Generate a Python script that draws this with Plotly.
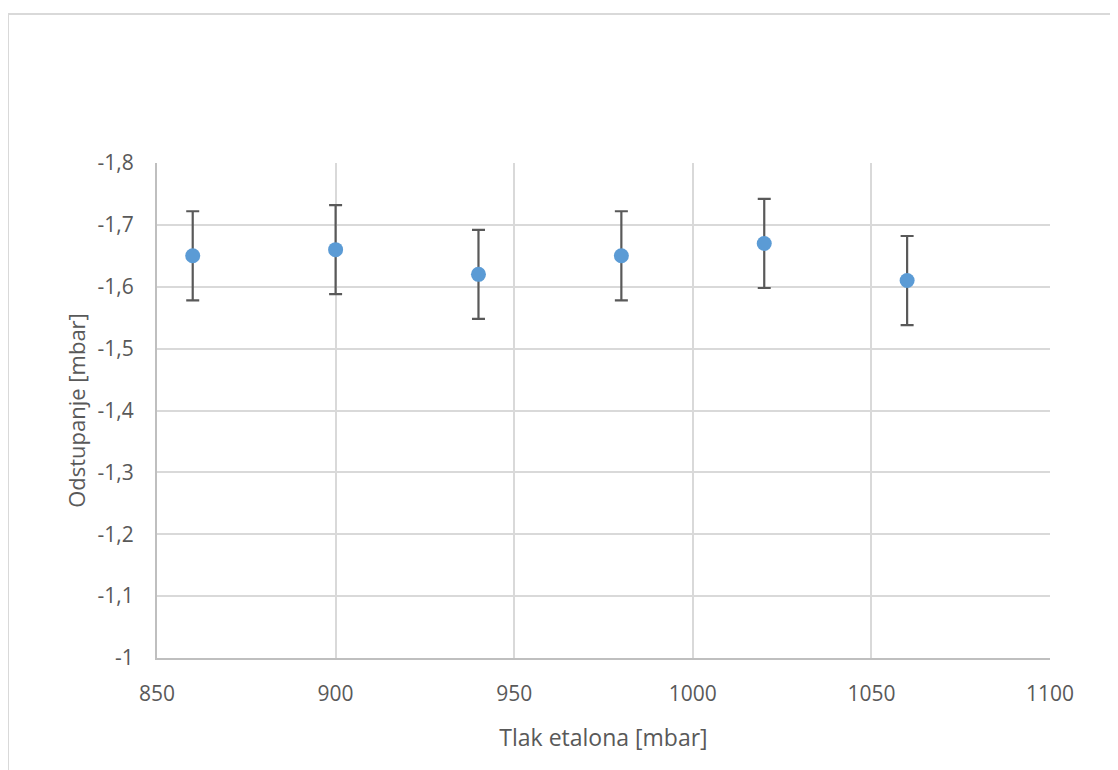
import plotly.graph_objects as go

# Data
tlak = [860, 900, 940, 980, 1020, 1060]
odstupanje = [-1.65, -1.66, -1.62, -1.65, -1.67, -1.61]
nesigurnost = [0.072, 0.072, 0.072, 0.072, 0.072, 0.072]

x_ticks = [850, 900, 950, 1000, 1050, 1100]
x_ticklabels = ["850", "900", "950", "1000", "1050", "1100"]
y_ticks = [-1.0, -1.1, -1.2, -1.3, -1.4, -1.5, -1.6, -1.7, -1.8]
y_ticklabels = ["-1", "-1,1", "-1,2", "-1,3", "-1,4", "-1,5", "-1,6", "-1,7", "-1,8"]

x_title = "Tlak etalona [mbar]"
y_title = "Odstupanje [mbar]"

# page has an 8px body margin; figure sized to fit the window
W, H = 1110, 762
L, R, T, B = 149, 68, 155, 112
pw, ph = W - L - R, H - T - B

fig = go.Figure()
fig.add_trace(go.Scatter(
    x=tlak, y=odstupanje, mode="markers",
    marker=dict(size=15, color="#5b9bd5"),
    error_y=dict(type="data", array=nesigurnost, visible=True,
                 color="#595959", thickness=2.2, width=6.5),
    showlegend=False,
))

font = dict(family="Open Sans, sans-serif", size=21, color="#595959")

fig.update_layout(
    width=W, height=H,
    margin=dict(l=L, r=R, t=T, b=B, pad=0),
    paper_bgcolor="white", plot_bgcolor="white",
    font=font,
    xaxis=dict(range=[850, 1100], tickvals=x_ticks, ticktext=x_ticklabels,
               showgrid=True, gridcolor="#d9d9d9", gridwidth=2,
               showline=True, linecolor="#bfbfbf", linewidth=2,
               ticks="", ticklabelstandoff=16,
               zeroline=False,
               title=dict(text=x_title, standoff=24, font=dict(size=23))),
    yaxis=dict(range=[-1, -1.8], tickvals=y_ticks, ticktext=y_ticklabels,
               showgrid=True, gridcolor="#d9d9d9", gridwidth=2,
               showline=True, linecolor="#bfbfbf", linewidth=2,
               ticks="", ticklabelstandoff=17,
               zeroline=False,
               title=dict(text=y_title, standoff=6, font=dict(size=22))),
    shapes=[dict(type="rect", xref="paper", yref="paper",
                 x0=(0 - L) / pw, x1=1.3,
                 y0=-0.4, y1=(H - B - 6) / ph,
                 line=dict(color="#d9d9d9", width=2), layer="below")],
)

fig.write_html("out.html")
